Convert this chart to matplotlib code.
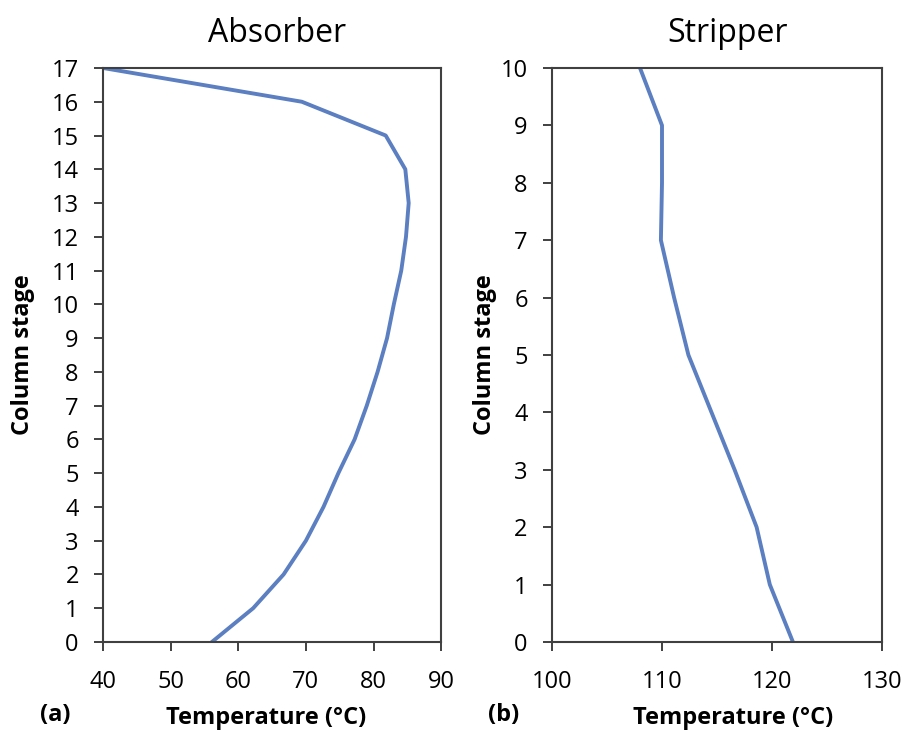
import matplotlib
matplotlib.use("Agg")
import matplotlib.pyplot as plt

# absorber temperature profile
abs_stage = list(range(18))
abs_temp = [56.1, 62.2, 66.7, 70.0, 72.6, 74.8, 77.2, 79.0, 80.6, 82.0,
            83.0, 84.1, 84.8, 85.2, 84.7, 81.8, 69.4, 40.0]

# stripper temperature profile
str_stage = list(range(11))
str_temp = [121.9, 119.8, 118.6, 116.6, 114.5, 112.4, 111.1, 109.9, 110.0, 110.0, 108.0]

plt.rcParams['font.family'] = ['Open Sans', 'DejaVu Sans']
line_col = '#5b7fc0'
spine_col = '#404040'

fig = plt.figure(figsize=(9.04, 7.31), dpi=100)
ax1 = fig.add_axes([0.114, 0.1218, 0.374, 0.7852])
ax2 = fig.add_axes([0.6106, 0.1218, 0.3651, 0.7852])

def style(ax, ylab_x, xlab_x):
    for s in ax.spines.values():
        s.set_color(spine_col)
        s.set_linewidth(1.5)
    ax.tick_params(direction='out', length=6.5, width=1.4, color=spine_col,
                   labelsize=17, pad=11)
    ax.tick_params(axis='x', pad=14)
    ax.set_ylabel('Column stage', fontsize=17, fontweight='bold')
    ax.set_xlabel('Temperature (°C)', fontsize=17, fontweight='bold')
    ax.yaxis.set_label_coords(ylab_x, 0.5)
    ax.xaxis.set_label_coords(xlab_x, -0.112)

ax1.plot(abs_temp, abs_stage, color=line_col, lw=2.8)
ax1.set_xlim(40, 90)
ax1.set_ylim(0, 17)
ax1.set_xticks(range(40, 91, 10))
ax1.set_yticks(range(0, 18))
style(ax1, -0.201, 0.483)
ax1.set_title('Absorber', fontsize=23, pad=19, x=0.515)

ax2.plot(str_temp, str_stage, color=line_col, lw=2.8)
ax2.set_xlim(100, 130)
ax2.set_ylim(0, 10)
ax2.set_xticks(range(100, 131, 10))
ax2.set_yticks(range(0, 11))
style(ax2, -0.167, 0.548)
ax2.set_title('Stripper', fontsize=23, pad=19, x=0.533)

fig.text(0.044, 0.022, '(a)', fontsize=17, fontweight='bold', va='center')
fig.text(0.540, 0.022, '(b)', fontsize=17, fontweight='bold', va='center')

fig.savefig('out.png', dpi=100, facecolor='white')
